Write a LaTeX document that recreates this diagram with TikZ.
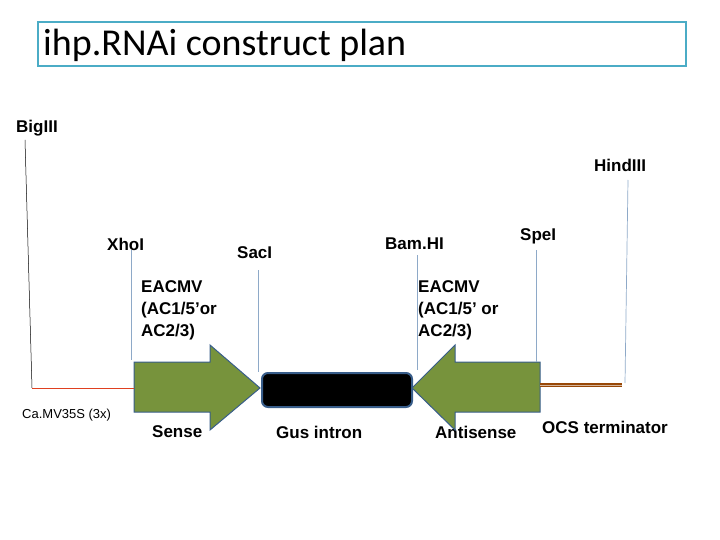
\documentclass[tikz,border=0pt]{standalone}
\usepackage{fontspec}
\setmainfont{Liberation Sans}
\newfontfamily\titlefont{Carlito}
\definecolor{gfill}{HTML}{77933C}
\definecolor{gline}{HTML}{385D8A}
\definecolor{tbox}{HTML}{4BACC6}
\definecolor{brn}{HTML}{984807}
\definecolor{sitec}{HTML}{8EA9C8}
\begin{document}
\begin{tikzpicture}[x=1pt,y=-1pt,
 lbl/.style={font=\bfseries\fontsize{17}{20}\selectfont,inner sep=0pt},
 site/.style={draw=sitec,line width=0.7pt},
 arr/.style={draw=gline,fill=gfill,line width=1pt}]
\useasboundingbox (0,0) rectangle (720,540);
\node[draw=tbox,line width=2pt,minimum width=648pt,minimum height=44pt,anchor=north west,inner sep=0pt] (title) at (37,21) {};
\node[anchor=west,font=\titlefont\fontsize{38}{42}\selectfont,inner sep=0pt] (tt) at (43,45) {ihp.RNAi construct plan};
\node[lbl,anchor=west] (bg) at (16,128) {BigIII};
\node[lbl,anchor=west] (hd) at (594,165) {HindIII};
\node[lbl,anchor=west] (xh) at (107,244) {XhoI};
\node[lbl,anchor=west] (sc) at (237,253) {SacI};
\node[lbl,anchor=west] (bm) at (385,244) {Bam.HI};
\node[lbl,anchor=west] (sp) at (520,236) {SpeI};
\node[lbl,anchor=north west,align=left,font=\bfseries\fontsize{17}{22}\selectfont] (e1) at (141,280) {EACMV\\(AC1/5'or\\AC2/3)};
\node[lbl,anchor=north west,align=left,font=\bfseries\fontsize{17}{22}\selectfont] (e2) at (418,280) {EACMV\\(AC1/5' or\\AC2/3)};
\node[anchor=west,inner sep=0pt,font=\fontsize{13}{15}\selectfont] (ca) at (22,415) {Ca.MV35S (3x)};
\node[lbl,anchor=west] (se) at (152,432) {Sense};
\node[lbl,anchor=west] (gu) at (276,432) {Gus intron};
\node[lbl,anchor=west] (an) at (435,432) {Antisense};
\node[lbl,anchor=west] (oc) at (542,427) {OCS terminator};
% arrows
\draw[arr] (134,362) -- (210,362) -- (210,345) -- (260,388) -- (210,430) -- (210,412) -- (134,412) -- cycle;
\draw[arr] (540,362) -- (455,362) -- (455,345) -- (412,388) -- (455,430) -- (455,412) -- (540,412) -- cycle;
\node[draw=gline,line width=2pt,fill=black,rounded corners=6pt,minimum width=150pt,minimum height=34pt,anchor=north west,inner sep=0pt] (gus) at (261,372) {};
\coordinate (p0) at (32,388);
\draw[red!50!brown,line width=1pt] (p0) -- (134,388);
\draw[brn,line width=4pt] (540,385) -- (622,385);
\draw[brn!40!white,line width=0.6pt] (540,385) -- (622,385);
\draw[black,line width=0.5pt] (25,140) -- (32,388);
\draw[site] (131,250) -- (131,360);
\draw[site] (258,270) -- (258,372);
\draw[site] (417,255) -- (417,370);
\draw[site] (536,250) -- (536,362);
\draw[site] (628,180) -- (625,383);
\end{tikzpicture}
\end{document}
